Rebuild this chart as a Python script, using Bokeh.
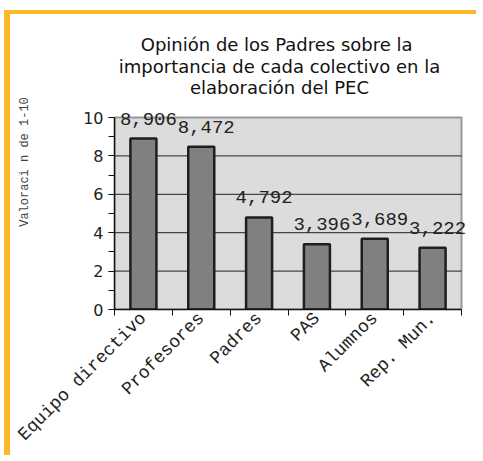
import math
from bokeh.plotting import figure
from bokeh.models import (ColumnDataSource, Label, LabelSet, FixedTicker, Range1d)
from bokeh.core.properties import value
from bokeh.embed import file_html
from bokeh.resources import INLINE

categories = ["Equipo directivo", "Profesores", "Padres", "PAS", "Alumnos", "Rep. Mun."]
values = [8.906, 8.472, 4.792, 3.396, 3.689, 3.222]
value_labels = ["8,906", "8,472", "4,792", "3,396", "3,689", "3,222"]
y_ticks = [0, 2, 4, 6, 8, 10]
title_lines = ["Opinión de los Padres  sobre la",
               "importancia de cada colectivo en la",
               "elaboración del PEC"]
y_title = "Valoraci n de 1-10"

n = len(categories)
ymax = y_ticks[-1]
centers = [i + 0.5 for i in range(n)]
src = ColumnDataSource(dict(x=centers, top=values, lab=value_labels))
grid_src = ColumnDataSource(dict(y=y_ticks[1:-1]))

# canvas geometry (px). The frame covers the whole upper part of the canvas so that
# the title and the value labels can overhang the grey plot area, as in the original.
W, H = 472, 445
border_l, border_r, border_b = 104, 12, 150
frame_w = W - border_l - border_r
frame_h = H - border_b
plot_w, plot_h = 347, 192          # grey plot area size in px
x_end = n * frame_w / plot_w
y_end = ymax * frame_h / plot_h


def px_to_x(cx):   # canvas px -> data x
    return (cx - border_l) / plot_w * n


def py_to_y(cy):   # canvas px (from top) -> data y
    return (frame_h - cy) / plot_h * ymax


p = figure(width=W, height=H, output_backend="svg", toolbar_location=None,
           x_range=Range1d(0, x_end), y_range=Range1d(0, y_end),
           min_border_left=border_l, min_border_right=border_r, min_border_top=0,
           min_border_bottom=border_b, title=None,
           styles={"margin-left": "4px", "margin-top": "10px",
                   "border-left": "6px solid #fbb829",
                   "border-top": "4px solid #fbb829"})
p.background_fill_color = "white"
p.border_fill_color = "white"
p.outline_line_color = None
p.xgrid.grid_line_color = None
p.ygrid.grid_line_color = None

# title (three centred lines)
for line, cy in zip(title_lines, [30, 52, 73]):
    p.add_layout(Label(x=px_to_x(269), y=py_to_y(cy), text=line,
                       text_align="center", text_baseline="alphabetic",
                       text_font="DejaVu Sans", text_font_size="18px",
                       text_color="#111111"))

# grey plot area
p.quad(left=0, right=n, bottom=0, top=ymax, fill_color="#dcdcdc",
       line_color="#999999", line_width=2)
# horizontal grid lines
p.segment(x0=0, x1=n, y0="y", y1="y", source=grid_src, line_color="#222222", line_width=1)

p.vbar(x="x", top="top", width=0.45, source=src, fill_color="#808080",
       line_color="#1e1e1e", line_width=2.5)

p.add_layout(LabelSet(x="x", y="top", text="lab", source=src, x_offset=5, y_offset=14,
                      text_align="center", text_baseline="alphabetic",
                      text_font=value("Liberation Mono"), text_font_size="19px",
                      text_color="#222222"))

# x axis
p.xaxis.bounds = (0, n)
p.xaxis.ticker = FixedTicker(ticks=centers, minor_ticks=list(range(n + 1)))
p.xaxis.major_label_overrides = {c: name for c, name in zip(centers, categories)}
p.xaxis.major_label_orientation = math.pi / 4
p.xaxis.major_tick_out = 0
p.xaxis.major_tick_in = 0
p.xaxis.minor_tick_out = 6
p.xaxis.minor_tick_in = 0
p.xaxis.major_label_text_font = "Liberation Mono"
p.xaxis.major_label_text_font_size = "18px"
p.xaxis.major_label_text_color = "#222222"
p.xaxis.axis_line_color = "#111111"
p.xaxis.axis_line_width = 1.5
p.xaxis.minor_tick_line_color = "#111111"
p.xaxis.major_label_standoff = 0

# y axis
p.yaxis.bounds = (0, ymax)
p.yaxis.ticker = FixedTicker(ticks=y_ticks, minor_ticks=list(range(0, ymax + 1)))
p.yaxis.major_tick_out = 6
p.yaxis.major_tick_in = 0
p.yaxis.minor_tick_out = 6
p.yaxis.minor_tick_in = 0
p.yaxis.major_label_text_font = "DejaVu Sans"
p.yaxis.major_label_text_font_size = "16px"
p.yaxis.major_label_text_color = "#222222"
p.yaxis.major_label_standoff = 5
p.yaxis.axis_line_color = "#111111"
p.yaxis.axis_line_width = 1.5
p.yaxis.major_tick_line_color = "#111111"
p.yaxis.minor_tick_line_color = "#111111"
p.yaxis.axis_label = y_title
p.yaxis.axis_label_text_font = "Liberation Mono"
p.yaxis.axis_label_text_font_size = "12px"
p.yaxis.axis_label_text_font_style = "normal"
p.yaxis.axis_label_text_color = "#444444"
p.yaxis.axis_label_standoff = 48

open("out.html", "w").write(file_html(p, INLINE))
